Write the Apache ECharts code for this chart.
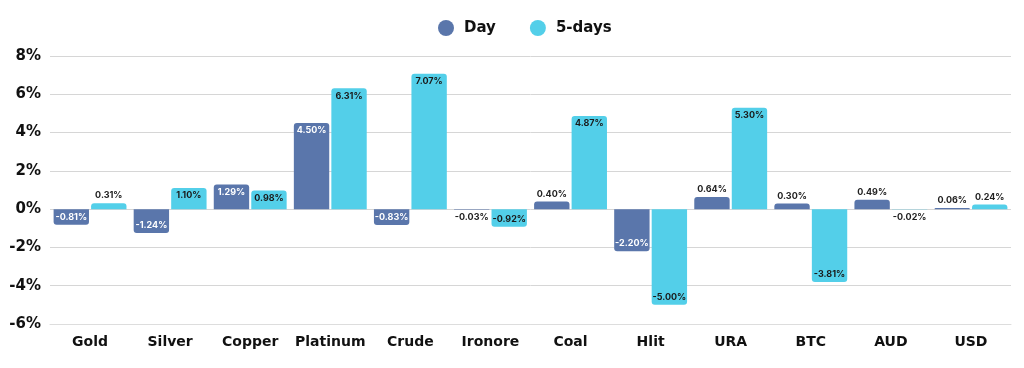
<!DOCTYPE html>
<html>
<head>
<meta charset="utf-8">
<script src="https://cdn.jsdelivr.net/npm/echarts@6/dist/echarts.min.js"></script>
<style>
html,body{margin:0;padding:0;background:#fff;}
#c{width:1024px;height:368px;}
</style>
</head>
<body>
<div id="c"></div>
<script>
const categories = ['Gold','Silver','Copper','Platinum','Crude','Ironore','Coal','Hlit','URA','BTC','AUD','USD'];
const dayValues = [-0.81,-1.24,1.29,4.50,-0.83,-0.03,0.40,-2.20,0.64,0.30,0.49,0.06];
const fiveDayValues = [0.31,1.10,0.98,6.31,7.07,-0.92,4.87,-5.00,5.30,-3.81,-0.02,0.24];
const yTicks = [-6,-4,-2,0,2,4,6,8];

const FONT = 'Inter';
const AXIS_FONT = 'DejaVu Sans';
const DAY_COLOR = '#5a76ab';
const FIVE_COLOR = '#53cfe9';

function buildData(values, insideColor) {
  return values.map(v => {
    const inside = Math.abs(v) >= 0.75;
    return {
      value: v,
      itemStyle: { borderRadius: v >= 0 ? [3,3,0,0] : [0,0,3,3] },
      label: {
        position: inside ? (v >= 0 ? 'insideTop' : 'insideBottom') : (v >= 0 ? 'top' : 'bottom'),
        color: inside ? insideColor : '#222',
        distance: 3
      }
    };
  });
}

const chart = echarts.init(document.getElementById('c'), null, {renderer:'canvas'});
chart.setOption({
  animation: false,
  textStyle: { fontFamily: FONT },
  legend: {
    top: 15,
    left: 433,
    icon: 'circle',
    itemWidth: 16,
    itemHeight: 16,
    itemGap: 34,
    textStyle: { fontFamily: AXIS_FONT, fontWeight: 'bold', fontSize: 15, color: '#111', padding: [0,0,0,5] },
    data: ['Day','5-days']
  },
  grid: { left: 50, right: 13, top: 56, bottom: 44, containLabel: false },
  xAxis: {
    type: 'category',
    data: categories,
    axisTick: { show: false },
    axisLine: { show: true, onZero: false, lineStyle: { color: '#dddddd', width: 1 } },
    axisLabel: { interval: 0, hideOverlap: false, fontFamily: AXIS_FONT, fontWeight: 'bold', fontSize: 14, color: '#111', margin: 11 }
  },
  yAxis: {
    type: 'value',
    min: yTicks[0],
    max: yTicks[yTicks.length-1],
    interval: 2,
    axisLine: { show: false },
    axisTick: { show: false },
    splitLine: { lineStyle: { color: '#d6d6d6', width: 1 } },
    axisLabel: { fontFamily: AXIS_FONT, fontWeight: 'bold', fontSize: 15, color: '#111', margin: 9,
      formatter: v => v + '%' }
  },
  series: [
    {
      name: 'Day', type: 'bar', color: DAY_COLOR,
      barGap: '6%', barCategoryGap: '9%',
      data: buildData(dayValues, '#ffffff'),
      label: { show: true, fontFamily: FONT, fontWeight: 'bold', fontSize: 9,
        formatter: p => p.value.toFixed(2) + '%' }
    },
    {
      name: '5-days', type: 'bar', color: FIVE_COLOR,
      barGap: '6%', barCategoryGap: '9%',
      data: buildData(fiveDayValues, '#1a1a1a'),
      label: { show: true, fontFamily: FONT, fontWeight: 'bold', fontSize: 9,
        formatter: p => p.value.toFixed(2) + '%' }
    }
  ]
});
</script>
</body>
</html>
